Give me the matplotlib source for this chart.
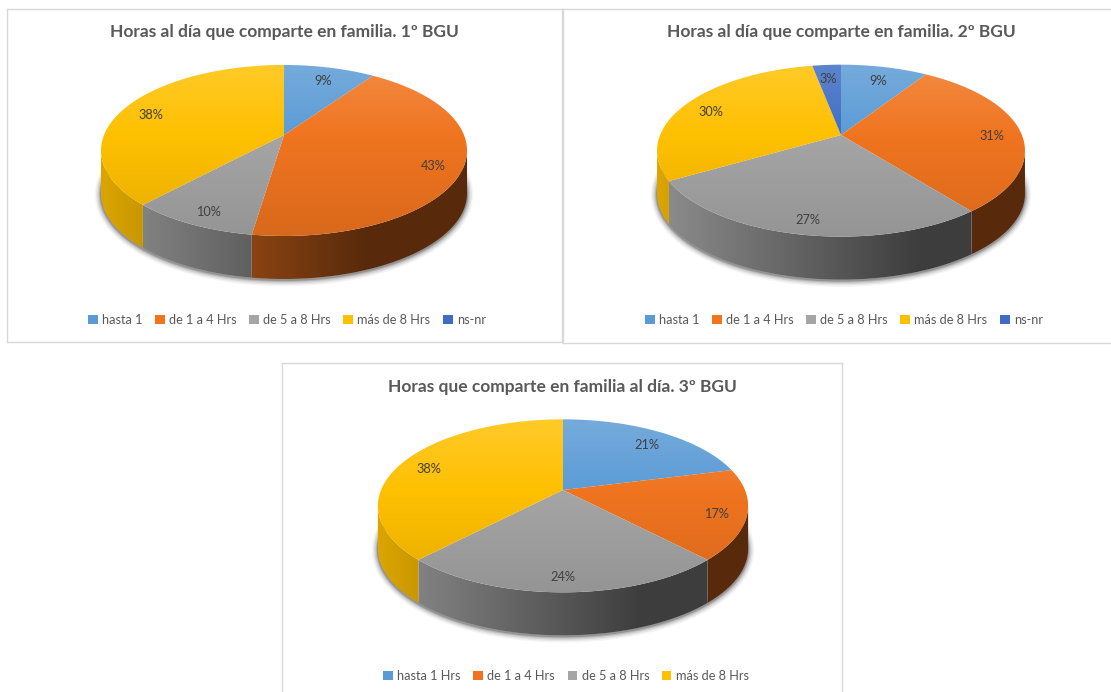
import numpy as np
import matplotlib
matplotlib.use('Agg')
import matplotlib.pyplot as plt
from matplotlib.patches import Patch, Polygon

plt.rcParams['font.family'] = ['Lato', 'DejaVu Sans']

W, H = 1111, 692

titles = ['Horas al día que comparte en familia. 1º BGU',
          'Horas al día que comparte en familia. 2º BGU',
          'Horas que comparte en familia al día. 3º BGU']
labels_a = ['hasta 1', 'de 1 a 4 Hrs', 'de 5 a 8 Hrs', 'más de 8 Hrs', 'ns-nr']
labels_c = ['hasta 1 Hrs', 'de 1 a 4 Hrs', 'de 5 a 8 Hrs', 'más de 8 Hrs']
# shares
values_1 = [9.6, 42.75, 9.55, 38.1, 0]
values_2 = [9.1, 30.3, 27.2, 30.4, 3.0]
values_3 = [21.0, 16.9, 24.2, 37.9]
# percentages as printed on the slices
printed_1 = [9, 43, 10, 38, 0]
printed_2 = [9, 31, 27, 30, 3]
printed_3 = [21, 17, 24, 38]

colors = ['#5B9BD5', '#F0741F', '#A5A5A5', '#FFC000', '#3F6DC4']
text_col = '#595959'

# frame x0, y0, x1, y1 and pie apex, all in pixels of the picture
panels = [
    dict(frame=(7, 9, 562, 342), apex=(284, 135), size=1.0, title_x=284.5, title_y=32, leg_y=320,
         vals=values_1, printed=printed_1, labs=labels_a, tit=titles[0]),
    dict(frame=(563, 9, 1113, 343), apex=(841, 135), size=1.005, title_x=841, title_y=32, leg_y=320,
         vals=values_2, printed=printed_2, labs=labels_a, tit=titles[1]),
    dict(frame=(282, 363, 842, 695), apex=(563, 490), size=1.011, title_x=562.5, title_y=387, leg_y=676,
         vals=values_3, printed=printed_3, labs=labels_c, tit=titles[2]),
]

# perspective of the pie
P = 0.181
A = 180.0
B = 82.7
DEPTH = 43


def project(theta, apex, r=1.0):
    # theta in degrees, clockwise from 12 o'clock
    t = np.radians(theta)
    u = r * np.sin(t)
    v = r * np.cos(t)
    w = 1 + P * v
    return apex[0] + A * u / w, apex[1] - B * v / w


def top_gradient(col):
    base = np.array(matplotlib.colors.to_rgb(col))
    stops = [0.0, 0.42, 1.0]
    rows = np.linspace(0, 1, 64)
    out = np.zeros((64, 1, 3))
    top = base + (1 - base) * 0.16
    bottom = base * 0.90
    for c in range(3):
        out[:, 0, c] = np.interp(rows, stops, [top[c], base[c], bottom[c]])
    return out


def side_gradient(col):
    base = np.array(matplotlib.colors.to_rgb(col))
    cols = np.linspace(-185, 185, 64)
    f = np.clip(np.interp(cols, [-185, 80], [0.86, 0.37]), 0.37, 1)
    return (base[None, None, :] * f[None, :, None])


def fill_gradient(ax, pts, grad, extent, z):
    patch = Polygon(pts, closed=True, facecolor='none', edgecolor='none', transform=ax.transData)
    ax.add_patch(patch)
    im = ax.imshow(grad, extent=extent, aspect='auto', interpolation='bilinear', zorder=z)
    im.set_clip_path(patch)


def draw_panel(p):
    x0, y0, x1, y1 = p['frame']
    ax = plt.gcf().add_axes([x0 / W, 1 - y1 / H, (x1 - x0) / W, (y1 - y0) / H])
    ax.set_xticks([])
    ax.set_yticks([])
    for s in ax.spines.values():
        s.set_color('#D9D9D9')
        s.set_linewidth(1.0)

    apex = p['apex']
    size = p['size']
    vals = np.array(p['vals'], dtype=float)
    edges = np.concatenate([[0], np.cumsum(vals)]) / vals.sum() * 360
    vis0 = np.degrees(np.arccos(-P))
    vis1 = 360 - vis0

    def pt(theta, r=1.0):
        return project(theta, apex, r * size)

    # soft shadow under the pie
    th = np.linspace(vis0 - 25, vis1 + 25, 200)
    sx, sy = pt(th)
    for lw, al in [(9, 0.04), (7, 0.06), (5, 0.09), (3, 0.13), (1.5, 0.18)]:
        ax.plot(sx, sy + DEPTH + 1, color='black', lw=lw, alpha=al, zorder=1, solid_capstyle='round')

    ext_top = (apex[0] - 190, apex[0] + 190, apex[1] + 104, apex[1] - 72)
    ext_side = (apex[0] - 185 * size, apex[0] + 185 * size, apex[1] + 150, apex[1] - 20)

    for i in range(len(vals)):
        if vals[i] == 0:
            continue
        a, b = edges[i], edges[i + 1]
        # side wall, only the front part can be seen
        s0, s1 = max(a, vis0), min(b, vis1)
        if s1 > s0:
            th = np.linspace(s0, s1, 80)
            ex, ey = pt(th)
            pts = np.column_stack([np.r_[ex, ex[::-1]], np.r_[ey, ey[::-1] + DEPTH]])
            fill_gradient(ax, pts, side_gradient(colors[i]), ext_side, 2)
        # top face
        th = np.linspace(a, b, 120)
        ex, ey = pt(th)
        pts = np.column_stack([np.r_[apex[0], ex], np.r_[apex[1], ey]])
        fill_gradient(ax, pts, top_gradient(colors[i]), ext_top, 3)
        # percent label
        lx, ly = pt((a + b) / 2, 0.84)
        ax.text(lx, ly + 4, '%d%%' % p['printed'][i], color='#404040', fontsize=9.2,
                ha='center', va='center', zorder=5)

    ax.text(p['title_x'], p['title_y'], p['tit'], color=text_col, fontsize=12.5,
            fontweight='bold', ha='center', va='center', zorder=5)

    handles = [Patch(facecolor=colors[i], edgecolor='none', label=lab) for i, lab in enumerate(p['labs'])]
    leg = ax.legend(handles=handles, ncol=len(handles), loc='center', frameon=False,
                    bbox_to_anchor=(apex[0] + 3, p['leg_y']), bbox_transform=ax.transData,
                    fontsize=9.2, handlelength=0.75, handleheight=0.75, handletextpad=0.35,
                    columnspacing=0.98, borderpad=0, labelcolor=text_col)
    leg.set_zorder(5)

    ax.set_xlim(x0, x1)
    ax.set_ylim(y1, y0)


fig = plt.figure(figsize=(W / 100, H / 100), dpi=100, facecolor='white')
for p in panels:
    draw_panel(p)
fig.savefig('out.png', dpi=100, facecolor='white')
